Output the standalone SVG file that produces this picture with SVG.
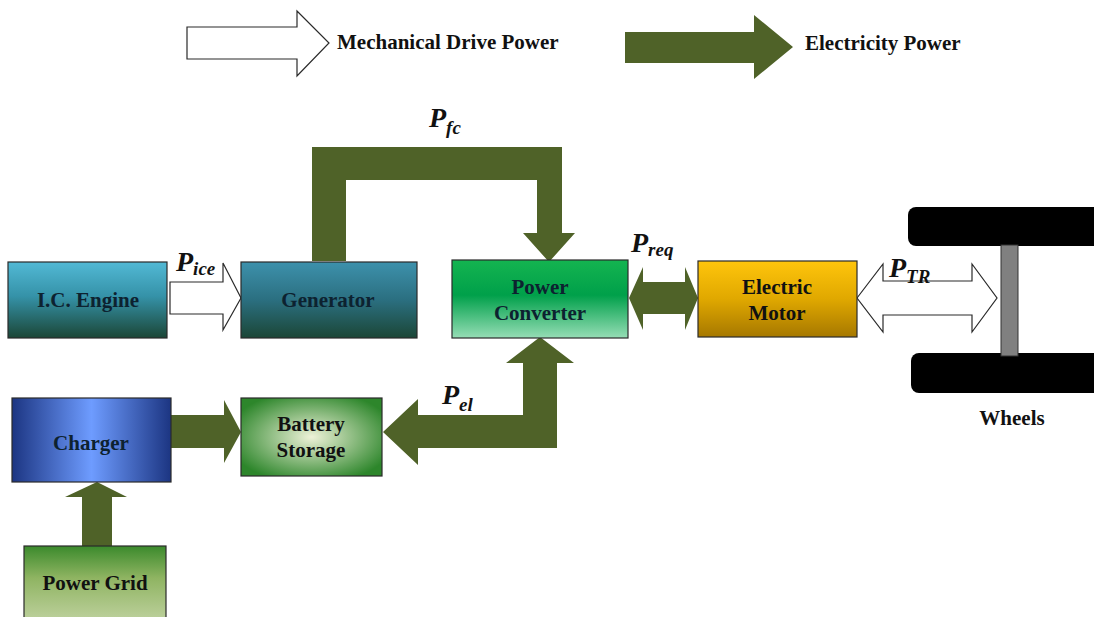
<svg xmlns="http://www.w3.org/2000/svg" width="1094" height="617" viewBox="0 0 1094 617">
<defs>
<linearGradient id="icGrad" x1="0" y1="0" x2="0" y2="1">
<stop offset="0" stop-color="#52b9d5"/><stop offset="0.45" stop-color="#3592a8"/><stop offset="1" stop-color="#1b4636"/>
</linearGradient>
<linearGradient id="genGrad" x1="0" y1="0" x2="0" y2="1">
<stop offset="0" stop-color="#3d91ac"/><stop offset="0.5" stop-color="#2b6f80"/><stop offset="1" stop-color="#1b4636"/>
</linearGradient>
<linearGradient id="pcGrad" x1="0" y1="0" x2="0" y2="1">
<stop offset="0" stop-color="#14b450"/><stop offset="0.45" stop-color="#00a04a"/><stop offset="1" stop-color="#96ddb5"/>
</linearGradient>
<linearGradient id="emGrad" x1="0" y1="0" x2="0" y2="1">
<stop offset="0" stop-color="#ffc50c"/><stop offset="0.5" stop-color="#e0a800"/><stop offset="1" stop-color="#a67800"/>
</linearGradient>
<linearGradient id="chGrad" x1="0" y1="0" x2="1" y2="0">
<stop offset="0" stop-color="#1c3582"/><stop offset="0.5" stop-color="#6e9cff"/><stop offset="1" stop-color="#1c3582"/>
</linearGradient>
<radialGradient id="bsGrad" cx="0.5" cy="0.5" r="0.6">
<stop offset="0" stop-color="#eef2d8"/><stop offset="1" stop-color="#2d862b"/>
</radialGradient>
<linearGradient id="pgGrad" x1="0" y1="0" x2="0" y2="1">
<stop offset="0" stop-color="#3b8a2c"/><stop offset="0.4" stop-color="#8fb462"/><stop offset="1" stop-color="#c3d4a4"/>
</linearGradient>
</defs>
<style>
.box{stroke:#2a2a2a;stroke-width:1.2}
.lbl{font-family:"Liberation Serif","Times New Roman",serif;font-weight:bold;font-size:21px;fill:#111;text-anchor:middle}
.dark{fill:#0d2230}
.leg{font-family:"Liberation Serif","Times New Roman",serif;font-weight:bold;font-size:21px;fill:#111}
.elec{fill:#4f6228;stroke:none}
.mech{fill:#fff;stroke:#2a2a2a;stroke-width:1.2}
.P{font-family:"Liberation Serif","Times New Roman",serif;font-weight:bold;font-style:italic;font-size:28px;fill:#111}
.sub{font-size:19px}
</style>

<g id="legend">
<polygon class="mech" points="187,27 297,27 297,11 329,43 297,76 297,59 187,59"/>
<text class="leg" x="337" y="49">Mechanical Drive Power</text>
<polygon class="elec" points="625,32 754,32 754,15 793,47 754,79 754,63 625,63"/>
<text class="leg" x="805" y="50">Electricity Power</text>
</g>

<g id="connectors">
<polygon id="c-fc" class="elec" points="312,261 312,147 562,147 562,233 575,233 549,262 523,233 537,233 537,180 346,180 346,261"/>
<polygon id="c-ice" class="mech" points="170,282 223,282 223,263 241,298 223,330 223,314 170,314"/>
<polygon id="c-req" class="elec" points="629,298 643,267 643,282 685,282 685,267 698,298 685,330 685,314 643,314 643,330"/>
<polygon id="c-tr" class="mech" points="857,298 883,264 883,281 972,281 972,264 997,298 972,332 972,315 883,315 883,332"/>
<polygon id="c-el" class="elec" points="383,432 418,399 418,415 523,415 523,363 506,363 540,337 574,363 557,363 557,448 418,448 418,465"/>
<polygon id="c-chg" class="elec" points="171,415 224,415 224,400 241,432 224,463 224,448 171,448"/>
<polygon id="c-grid" class="elec" points="82,546 82,497 65,497 97,482 127,497 112,497 112,546"/>
<text class="P" x="429" y="127">P<tspan class="sub" dy="7">fc</tspan></text>
<text class="P" x="176" y="271">P<tspan class="sub" dy="4">ice</tspan></text>
<text class="P" x="631" y="252">P<tspan class="sub" dy="4">req</tspan></text>
<text class="P" x="889" y="277">P<tspan class="sub" dy="6">TR</tspan></text>
<text class="P" x="442" y="404">P<tspan class="sub" dy="7">el</tspan></text>
</g>

<g id="ic-engine">
<rect class="box" x="8" y="262" width="159" height="76" fill="url(#icGrad)"/>
<text class="lbl dark" x="88" y="307">I.C. Engine</text>
</g>
<g id="generator">
<rect class="box" x="241" y="262" width="176" height="76" fill="url(#genGrad)"/>
<text class="lbl dark" x="328" y="307">Generator</text>
</g>
<g id="power-converter">
<rect class="box" x="452" y="260" width="176" height="78" fill="url(#pcGrad)"/>
<text class="lbl dark" x="540" y="294">Power</text>
<text class="lbl dark" x="540" y="320">Converter</text>
</g>
<g id="electric-motor">
<rect class="box" x="698" y="261" width="159" height="76" fill="url(#emGrad)"/>
<text class="lbl" x="777" y="294">Electric</text>
<text class="lbl" x="777" y="320">Motor</text>
</g>
<g id="charger">
<rect class="box" x="12" y="398" width="159" height="84" fill="url(#chGrad)"/>
<text class="lbl dark" x="91" y="450">Charger</text>
</g>
<g id="battery-storage">
<rect class="box" x="241" y="398" width="141" height="78" fill="url(#bsGrad)"/>
<text class="lbl" x="311" y="431">Battery</text>
<text class="lbl" x="311" y="457">Storage</text>
</g>
<g id="power-grid">
<rect class="box" x="24" y="546" width="142" height="80" fill="url(#pgGrad)"/>
<text class="lbl" x="95" y="590">Power Grid</text>
</g>
<g id="wheels">
<rect x="908" y="207" width="220" height="39" rx="8" fill="#000"/>
<rect x="911" y="353" width="220" height="40" rx="8" fill="#000"/>
<rect x="1001" y="245" width="17" height="111" fill="#808080" stroke="#333" stroke-width="1"/>
<text class="lbl" x="1012" y="425">Wheels</text>
</g>
</svg>
